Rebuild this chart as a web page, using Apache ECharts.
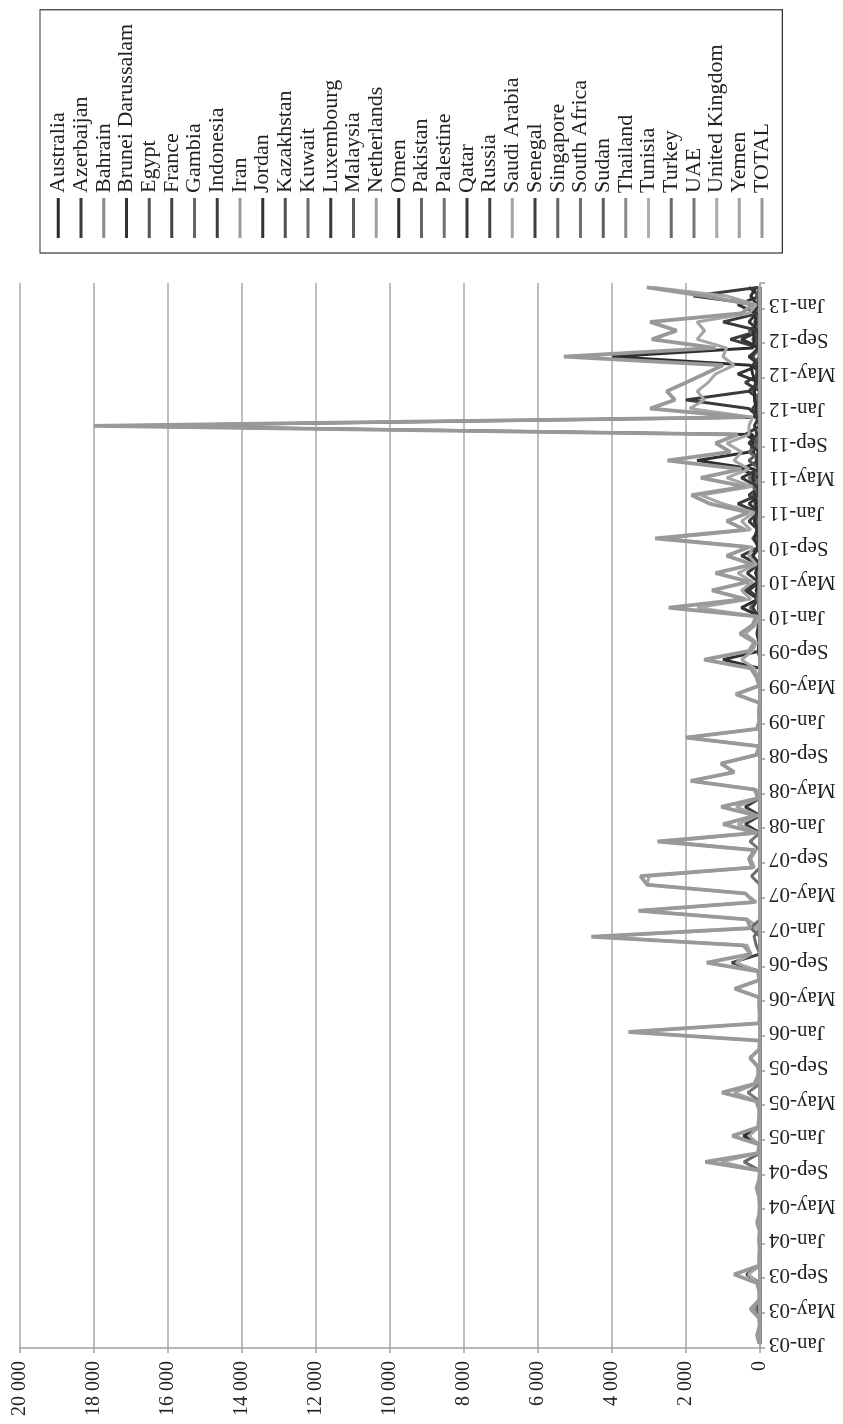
<!DOCTYPE html>
<html><head><meta charset="utf-8">
<script src="https://cdn.jsdelivr.net/npm/echarts@6/dist/echarts.min.js"></script>
<style>
html,body{margin:0;padding:0;background:#fff;overflow:hidden;width:843px;height:1424px;}
#chart{position:absolute;left:0;top:0;width:1424px;height:843px;transform-origin:0 0;transform:translateY(1424px) rotate(-90deg);}
</style></head>
<body><div id="chart"></div>
<script>
// ---- data ----
const monthNames = ['Jan','Feb','Mar','Apr','May','Jun','Jul','Aug','Sep','Oct','Nov','Dec'];
const yearLabels = ['03','04','05','06','07','08','09','10','11','12','13'];
const valueTicks = [0,2000,4000,6000,8000,10000,12000,14000,16000,18000,20000];

const TOTAL = [
 20,80,10,30,250,30,20,80,700,30,20,10,
 30,10,80,20,10,30,90,20,10,1480,60,20,
 750,50,30,20,100,1030,150,50,60,270,20,10,
 3550,20,10,20,30,680,20,60,1440,250,450,4560,
 250,350,3280,150,400,3050,3230,200,300,150,2770,100,
 1000,100,1050,50,150,1870,700,1050,100,20,2000,80,
 20,30,10,650,20,100,250,1510,300,150,540,200,
 100,2470,400,1300,300,1200,200,900,300,2830,400,900,
 300,1350,1850,400,1600,500,2500,800,1200,600,18000,400,
 2970,2300,2520,2000,1500,1000,5300,1200,2925,2250,2970,500,
 200,1500,3060];
const SaudiArabia = [
 10,40,0,20,0,20,10,50,320,20,10,0,
 20,0,50,10,0,20,60,10,0,1050,40,10,
 300,30,20,10,60,700,100,30,40,270,10,0,
 3550,10,0,10,20,680,10,40,650,250,350,4400,
 0,350,3280,100,400,3050,3000,150,250,100,2500,60,
 600,60,650,30,100,1870,700,1050,60,10,2000,50,
 10,20,0,650,10,60,150,500,200,100,400,120,
 60,1700,250,500,200,600,100,300,200,2600,250,500,
 150,1000,1600,200,900,300,700,500,900,300,300,200,
 1900,1500,1700,1400,1200,700,1000,900,1700,1500,1700,300,
 100,900,2900];
const Omen = [
 0,0,0,0,0,0,0,0,0,0,0,0,
 0,0,0,0,0,0,0,0,0,0,0,0,
 0,0,0,0,0,0,0,0,0,0,0,0,
 0,0,0,0,0,0,0,0,0,0,0,0,
 0,0,0,0,0,0,0,0,0,0,0,0,
 0,0,0,0,0,0,0,0,0,0,0,0,
 0,0,0,0,0,0,0,1000,0,0,60,30,
 0,500,50,100,40,120,50,200,60,150,80,150,
 100,100,150,120,200,150,1700,250,200,200,17500,150,
 100,150,150,120,200,250,4000,200,150,200,100,150,
 80,250,100];
const Qatar = [
 0,0,0,0,0,0,0,0,0,0,0,0,
 0,0,0,0,0,0,0,0,0,0,0,0,
 0,0,0,0,0,0,0,0,0,0,0,0,
 0,0,0,0,0,0,0,0,0,0,0,0,
 0,0,0,0,0,0,0,0,0,0,0,0,
 400,0,400,0,0,0,0,0,0,0,0,0,
 0,0,0,0,0,0,0,0,50,30,80,40,
 30,200,60,400,50,350,40,500,30,60,50,300,
 40,600,60,70,500,40,100,40,300,80,150,40,
 300,2000,300,60,80,40,250,60,60,40,1000,40,
 20,1800,40];
const Jordan = [
 0,0,0,0,0,0,0,0,360,0,0,0,
 0,0,0,0,0,0,0,0,0,0,0,0,
 0,0,0,0,0,0,0,0,0,0,0,0,
 0,0,0,0,0,0,0,0,0,0,0,0,
 0,0,0,0,0,0,0,0,0,0,0,0,
 0,0,0,0,0,0,0,0,0,0,0,0,
 0,0,0,0,0,0,0,0,0,0,0,0,
 0,0,0,0,0,0,0,0,0,0,0,0,
 0,300,0,100,0,500,0,200,0,400,0,100,
 200,0,300,0,600,0,300,0,500,0,300,100,
 600,0,300];
const Indonesia = [
 0,0,0,0,0,0,0,0,0,0,0,0,
 0,0,0,0,0,0,0,0,0,0,0,0,
 0,0,0,0,0,0,0,0,0,0,0,0,
 0,0,0,0,0,0,0,0,0,0,0,0,
 0,0,0,0,0,0,0,0,0,0,0,0,
 0,0,0,0,0,0,0,0,0,0,0,0,
 0,0,0,0,0,0,0,0,0,0,0,0,
 0,0,0,300,0,0,0,200,0,0,0,0,
 0,0,300,0,0,0,0,0,0,0,0,0,
 0,0,0,400,0,200,0,0,800,0,0,0,
 0,0,0];
const Kuwait = [
 0,0,0,0,0,0,0,0,0,0,0,0,
 0,0,0,0,0,0,0,0,0,430,0,0,
 0,0,0,0,0,0,0,0,0,0,0,0,
 0,0,0,0,0,0,0,0,0,0,100,160,
 0,0,0,0,0,0,230,0,0,0,0,0,
 0,0,0,0,0,0,0,0,0,0,0,0,
 0,0,0,0,0,0,0,0,30,20,40,20,
 10,270,30,60,20,20,20,10,10,20,20,10,
 10,20,200,30,300,30,60,30,30,30,20,30,
 20,30,200,20,30,20,30,30,20,300,20,20,
 20,20,20];
const Malaysia = [
 0,0,0,0,0,0,0,0,0,0,0,0,
 0,0,0,0,0,0,0,0,0,0,0,0,
 0,0,0,0,0,0,0,0,0,0,0,0,
 0,0,0,0,0,0,0,0,0,0,0,0,
 0,0,0,0,0,0,0,0,0,0,0,0,
 0,0,0,0,0,0,0,0,0,0,0,0,
 0,0,0,0,0,0,0,0,0,0,0,0,
 0,0,100,0,0,100,0,0,0,200,0,100,
 0,150,0,0,200,0,300,0,150,0,0,0,
 150,0,200,0,100,0,200,0,200,0,150,0,
 0,100,0];
const Egypt = [
 0,0,0,0,60,0,0,0,0,0,0,0,
 0,0,0,0,0,0,0,0,0,0,0,0,
 0,0,0,0,0,0,0,0,0,0,0,0,
 0,0,0,0,0,0,0,0,0,0,0,0,
 0,0,0,0,0,0,0,0,0,0,0,0,
 0,0,0,0,0,0,0,0,0,0,0,0,
 0,0,0,0,0,0,0,0,0,0,0,0,
 0,50,0,0,0,0,0,0,0,0,0,0,
 50,0,0,0,100,0,0,0,100,0,0,0,
 0,100,0,0,0,100,0,0,0,100,0,0,
 0,50,0];
const Pakistan = [
 0,0,0,0,0,0,0,0,0,0,0,0,
 0,0,0,0,0,0,0,0,0,0,0,0,
 0,0,0,0,0,0,0,0,0,0,0,0,
 0,0,0,0,0,0,0,0,0,0,0,0,
 0,0,0,0,0,0,0,0,0,0,0,0,
 0,0,0,0,0,0,0,0,0,0,0,0,
 0,0,0,0,0,0,0,0,0,0,0,0,
 0,0,0,0,0,0,0,0,0,0,0,0,
 0,0,0,200,0,0,0,300,0,0,0,0,
 0,0,0,0,0,0,0,0,0,0,0,0,
 0,0,0];
const Australia = [
 0,0,0,0,0,0,0,0,0,0,0,0,
 0,0,0,0,0,0,0,0,0,0,0,0,
 450,0,0,0,0,0,0,0,0,0,0,0,
 0,0,0,0,0,0,0,0,0,0,0,0,
 0,0,0,0,0,0,0,0,0,0,0,0,
 0,0,0,0,0,0,0,0,0,0,0,0,
 0,0,0,0,0,0,0,0,0,0,0,0,
 0,0,0,0,0,0,0,0,0,0,0,0,
 0,0,0,0,0,0,0,0,0,0,0,0,
 0,0,0,0,0,0,0,0,0,0,0,0,
 0,0,0];
const UAE = [
 0,0,0,0,0,0,0,0,0,0,0,0,
 0,0,0,0,0,0,0,0,0,0,0,0,
 0,0,0,0,0,330,0,0,0,0,0,0,
 0,0,0,0,0,0,0,0,0,0,0,0,
 0,0,0,0,0,0,0,0,0,0,270,0,
 0,0,0,0,0,0,0,0,0,0,0,0,
 0,0,0,0,0,0,0,0,20,0,0,0,
 0,0,60,40,30,30,0,10,0,0,0,0,
 0,0,0,0,0,0,0,0,0,0,0,0,
 0,0,0,0,0,0,0,0,0,0,0,0,
 0,0,0];
const Russia = [
 0,0,0,0,0,0,0,0,0,0,0,0,
 0,0,0,0,0,0,0,0,0,0,0,0,
 0,0,0,0,0,0,0,0,0,0,0,0,
 0,0,0,0,0,0,0,0,765,0,0,0,
 0,0,0,0,0,0,0,0,0,0,0,0,
 0,0,0,0,0,0,0,0,0,0,0,0,
 0,0,0,0,0,0,0,0,0,0,0,0,
 0,0,0,0,0,0,0,0,0,0,0,0,
 0,0,0,0,0,0,0,0,0,0,0,0,
 0,0,0,0,0,0,0,0,0,0,0,0,
 0,0,0];
const Bahrain = [
 0,0,0,0,150,0,0,0,0,0,0,0,
 0,0,0,0,0,0,0,0,0,0,0,0,
 0,0,0,0,0,0,0,0,0,0,0,0,
 0,0,0,0,0,0,0,0,0,0,0,0,
 0,0,0,0,0,0,0,0,0,0,0,0,
 0,0,0,0,0,0,0,0,0,0,0,0,
 0,0,0,0,0,0,0,0,0,0,0,0,
 0,0,0,0,0,0,0,0,0,0,0,0,
 0,0,0,0,0,0,0,0,0,0,0,0,
 0,0,0,0,0,0,0,0,0,0,0,0,
 0,0,0];
const Turkey = [
 0,0,0,0,0,0,0,0,0,0,0,0,
 0,0,0,0,0,0,0,0,0,0,0,0,
 0,0,0,0,0,0,0,0,0,0,0,0,
 0,0,0,0,0,0,0,0,0,0,0,0,
 250,0,0,0,0,0,0,0,0,0,0,0,
 0,0,0,0,0,0,0,0,0,0,0,0,
 0,0,0,0,0,0,0,0,0,0,0,0,
 0,0,0,0,0,0,0,0,0,0,0,0,
 0,0,0,0,0,0,0,0,0,0,0,0,
 0,0,0,0,0,0,0,0,0,0,0,0,
 0,0,0];
const Zero = [
 0,0,0,0,0,0,0,0,0,0,0,0,
 0,0,0,0,0,0,0,0,0,0,0,0,
 0,0,0,0,0,0,0,0,0,0,0,0,
 0,0,0,0,0,0,0,0,0,0,0,0,
 0,0,0,0,0,0,0,0,0,0,0,0,
 0,0,0,0,0,0,0,0,0,0,0,0,
 0,0,0,0,0,0,0,0,0,0,0,0,
 0,0,0,0,0,0,0,0,0,0,0,0,
 0,0,0,0,0,0,0,0,0,0,0,0,
 0,0,0,0,0,0,0,0,0,0,0,0,
 0,0,0];

const seriesNames = ['Australia','Azerbaijan','Bahrain','Brunei Darussalam','Egypt','France','Gambia','Indonesia','Iran','Jordan','Kazakhstan','Kuwait','Luxembourg','Malaysia','Netherlands','Omen','Pakistan','Palestine','Qatar','Russia','Saudi Arabia','Senegal','Singapore','South Africa','Sudan','Thailand','Tunisia','Turkey','UAE','United Kingdom','Yemen','TOTAL'];
const seriesColors = ['#2b2b2b','#3a3a3a','#8a8a8a','#333333','#555555','#444444','#666666','#3d3d3d','#9a9a9a','#333333','#505050','#6a6a6a','#3a3a3a','#5a5a5a','#a0a0a0','#2e2e2e','#666666','#707070','#3a3a3a','#444444','#a5a5a5','#3f3f3f','#666666','#707070','#606060','#8a8a8a','#b0b0b0','#6a6a6a','#777777','#aaaaaa','#a0a0a0','#999999'];
const seriesData = {
 'Australia':Australia,'Bahrain':Bahrain,'Egypt':Egypt,'Indonesia':Indonesia,'Jordan':Jordan,
 'Kuwait':Kuwait,'Malaysia':Malaysia,'Omen':Omen,'Pakistan':Pakistan,'Qatar':Qatar,'Russia':Russia,
 'Saudi Arabia':SaudiArabia,'Turkey':Turkey,'UAE':UAE,'TOTAL':TOTAL
};

// ---- build ----
const categories = [];
yearLabels.forEach(y => monthNames.forEach(m => { if (categories.length < TOTAL.length) categories.push(m + '-' + y); }));

const series = seriesNames.map((n, k) => ({
  name: n, type: 'line', data: seriesData[n] || Zero,
  symbol: 'none', smooth: false,
  lineStyle: { width: n === 'TOTAL' ? 3.8 : 3, color: seriesColors[k] },
  itemStyle: { color: seriesColors[k] },
  emphasis: { disabled: true }
}));

const chart = echarts.init(document.getElementById('chart'), null, { width: 1424, height: 843, renderer: 'canvas' });
const FONT = '"Liberation Serif","Times New Roman",serif';
chart.setOption({
  animation: false,
  backgroundColor: '#ffffff',
  grid: { left: 76, right: 283, top: 20, bottom: 83 },
  legend: {
    orient: 'vertical', left: 1171, top: 40,
    padding: [7, 14, 9, 15],
    itemGap: 0, itemWidth: 40, itemHeight: 3, icon: 'rect',
    borderColor: '#333', borderWidth: 1.2,
    textStyle: { fontFamily: FONT, fontSize: 22, lineHeight: 22.7, color: '#222' },
    data: seriesNames
  },
  xAxis: {
    type: 'category', data: categories, boundaryGap: true,
    axisLine: { show: true, lineStyle: { color: '#a0a0a0', width: 1.5 } },
    axisTick: { show: true, interval: 3, length: 5, lineStyle: { color: '#a0a0a0', width: 1.5 } },
    axisLabel: { interval: 3, rotate: 90, margin: 9, fontFamily: FONT, fontSize: 21, color: '#222', padding: [0, 0, 8.66, 0] },
    splitLine: { show: false }
  },
  yAxis: {
    type: 'value', min: 0, max: 20000, interval: 2000,
    axisLine: { show: true, lineStyle: { color: '#a0a0a0', width: 1.5 } },
    axisTick: { show: true, length: 5, lineStyle: { color: '#a0a0a0', width: 1.5 } },
    axisLabel: { margin: 13, fontFamily: FONT, fontSize: 20, color: '#222',
      formatter: v => v === 0 ? '0' : (v / 1000) + ' 000' },
    splitLine: { show: true, lineStyle: { color: '#a8a8a8', width: 1.5 } }
  },
  series: series
});
</script>
</body></html>
